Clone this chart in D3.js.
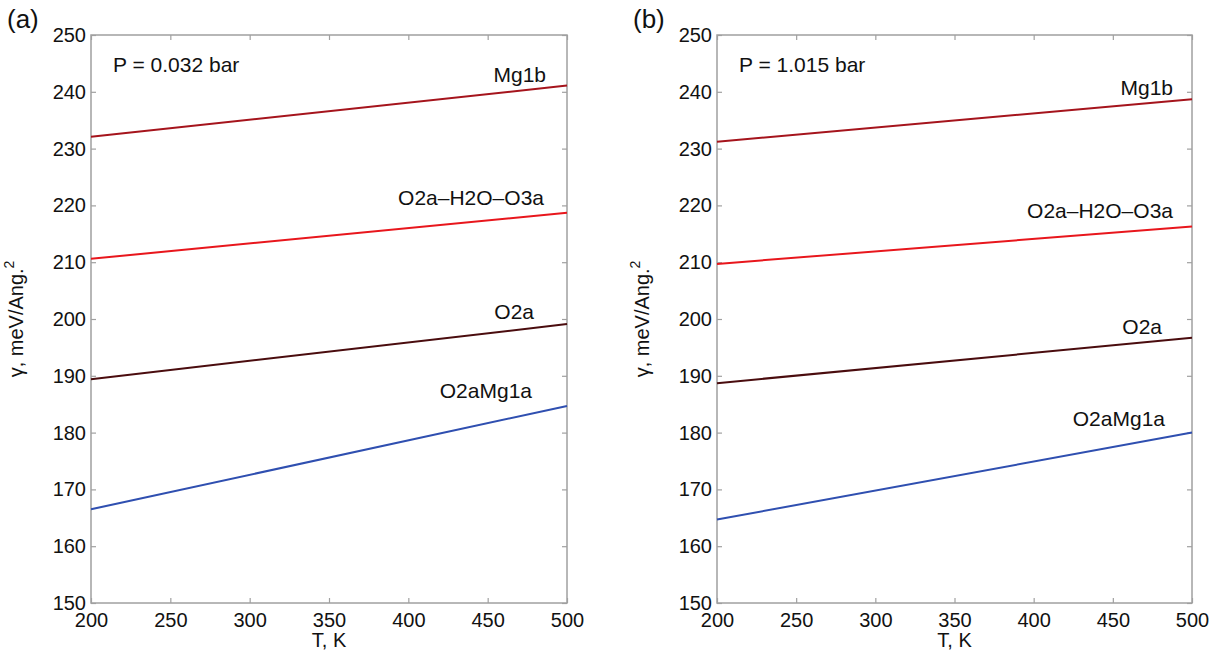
<!DOCTYPE html>
<html><head><meta charset="utf-8">
<script src="https://cdn.jsdelivr.net/npm/d3@7/dist/d3.min.js"></script>
<style>body{margin:0;background:#fff}svg{display:block}text{font-family:"Liberation Sans",Arial,sans-serif;fill:#111}</style>
</head><body><svg id="c" width="1212" height="650"></svg>
<script>
const temps = [200, 500];
const seriesNames = ["Mg1b", "O2a–H2O–O3a", "O2a", "O2aMg1a"];
const seriesColors = ["#a5141c", "#e8161c", "#4a0c0e", "#2f4fb0"];
const valuesA = [[232.1, 241.1], [210.6, 218.7], [189.4, 199.1], [166.5, 184.7]];
const valuesB = [[231.2, 238.7], [209.7, 216.3], [188.7, 196.7], [164.7, 180.0]];
const xTicks = [200, 250, 300, 350, 400, 450, 500];
const yTicks = [150, 160, 170, 180, 190, 200, 210, 220, 230, 240, 250];
const panels = [
  {tag: "(a)", pressure: "P = 0.032 bar", values: valuesA, left: 91, right: 567, labelDx: [-21, -23, -33, -35], labelDy: [-4, -8, -5, -8]},
  {tag: "(b)", pressure: "P = 1.015 bar", values: valuesB, left: 717, right: 1192, labelDx: [-19, -19, -30, -27], labelDy: [-4, -8, -4, -7]}
];
const plotTop = 35, plotBottom = 603;
const svg = d3.select("#c");
const axisCol = "#a0a0a0";

panels.forEach(p => {
  const x = d3.scaleLinear().domain([200, 500]).range([p.left, p.right]);
  const y = d3.scaleLinear().domain([150, 250]).range([plotBottom, plotTop]);
  const g = svg.append("g");
  g.append("rect").attr("x", p.left).attr("y", plotTop).attr("width", p.right - p.left).attr("height", plotBottom - plotTop)
    .attr("fill", "none").attr("stroke", axisCol).attr("stroke-width", 1.5);
  const fmt = d3.format("d");
  const bx = g.append("g").attr("transform", `translate(0,${plotBottom})`)
    .call(d3.axisBottom(x).tickValues(xTicks).tickFormat(fmt).tickSizeInner(-5).tickSizeOuter(0).tickPadding(10));
  const tx = g.append("g").attr("transform", `translate(0,${plotTop})`)
    .call(d3.axisTop(x).tickValues(xTicks).tickFormat("").tickSizeInner(-5).tickSizeOuter(0));
  const ly = g.append("g").attr("transform", `translate(${p.left},0)`)
    .call(d3.axisLeft(y).tickValues(yTicks).tickFormat(fmt).tickSizeInner(-5).tickSizeOuter(0).tickPadding(5));
  const ry = g.append("g").attr("transform", `translate(${p.right},0)`)
    .call(d3.axisRight(y).tickValues(yTicks).tickFormat("").tickSizeInner(-5).tickSizeOuter(0));
  [bx, tx, ly, ry].forEach(a => {
    a.select(".domain").remove();
    a.selectAll(".tick line").attr("stroke", axisCol).attr("stroke-width", 1.2);
    a.selectAll("text").attr("font-size", 20).attr("fill", "#111").attr("font-family", "Liberation Sans, Arial, sans-serif");
  });
  const line = d3.line().x((d, i) => x(temps[i])).y(d => y(d));
  p.values.forEach((vals, k) => {
    g.append("path").attr("d", line(vals)).attr("fill", "none")
      .attr("stroke", seriesColors[k]).attr("stroke-width", 2);
    g.append("text").attr("x", x(500) + p.labelDx[k]).attr("y", y(vals[1]) + p.labelDy[k])
      .attr("text-anchor", "end").attr("font-size", 21).text(seriesNames[k]);
  });
  g.append("text").attr("x", p.left + 22).attr("y", 72).attr("font-size", 21).text(p.pressure);
  g.append("text").attr("x", p.left - 84).attr("y", 28).attr("font-size", 26)
    .attr("font-family", "Open Sans, DejaVu Sans, sans-serif").text(p.tag);
  g.append("text").attr("x", (p.left + p.right) / 2).attr("y", 647).attr("text-anchor", "middle")
    .attr("font-size", 20).text("T, K");
  const yl = g.append("text").attr("transform", `translate(${p.left - 68},${(plotTop + plotBottom) / 2}) rotate(-90)`)
    .attr("text-anchor", "middle").attr("font-size", 20);
  yl.append("tspan").text("γ, meV/Ang.");
  yl.append("tspan").attr("dy", -9).attr("font-size", 14).text("2");
});
</script></body></html>
